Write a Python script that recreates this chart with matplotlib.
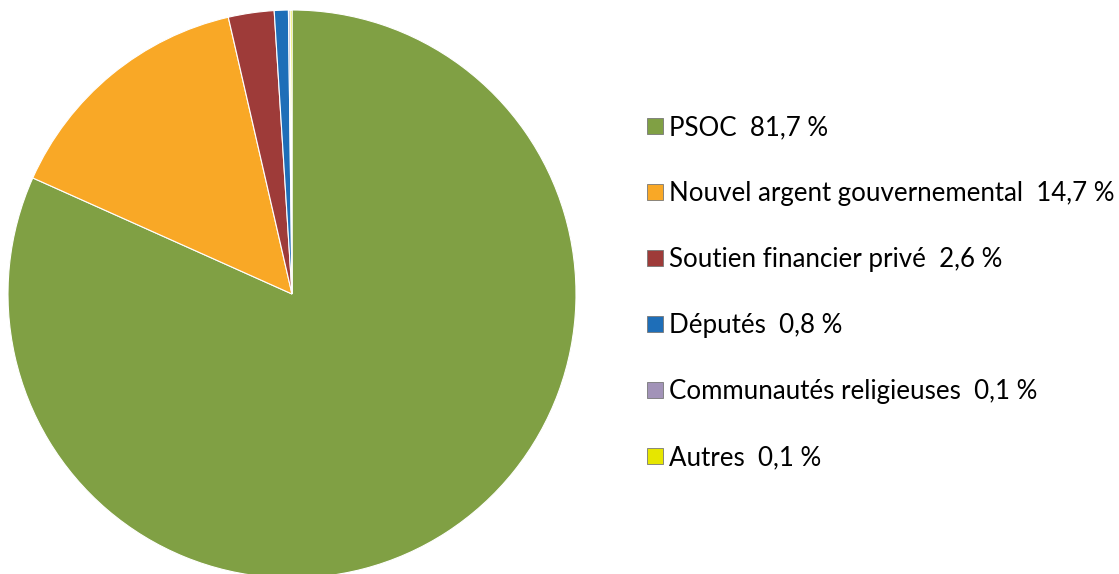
import matplotlib
matplotlib.use("Agg")
import matplotlib.pyplot as plt

categories = ["PSOC", "Nouvel argent gouvernemental", "Soutien financier privé",
              "Députés", "Communautés religieuses", "Autres"]
values = [81.7, 14.7, 2.6, 0.8, 0.1, 0.1]
labels = ["PSOC  81,7 %", "Nouvel argent gouvernemental  14,7 %",
          "Soutien financier privé  2,6 %", "Députés  0,8 %",
          "Communautés religieuses  0,1 %", "Autres  0,1 %"]
colors = ["#80A044", "#F9A826", "#9E3B39", "#1E6EB8", "#A293B8", "#E6E600"]

W, H = 1119, 574
fig = plt.figure(figsize=(W / 100, H / 100), dpi=100)
cx, cy, r = 292, 294, 284
ax = fig.add_axes([(cx - r) / W, (H - cy - r) / H, 2 * r / W, 2 * r / H])
wedges, _ = ax.pie(values, colors=colors, startangle=90, counterclock=False,
                   radius=1.0, wedgeprops=dict(edgecolor="white", linewidth=0.8))
ax.set_xlim(-1, 1)
ax.set_ylim(-1, 1)
ax.set_aspect("equal")
ax.axis("off")

leg = fig.legend(wedges, labels, loc="upper left",
                 bbox_to_anchor=(624 / W, 1 - 92 / H),
                 frameon=False, handlelength=0.6, handleheight=0.6,
                 handletextpad=0.25, labelspacing=1.585,
                 prop={"family": ["Lato", "DejaVu Sans"], "size": 18.6})
for h in leg.legend_handles:
    h.set_edgecolor("#777777")
    h.set_linewidth(0.6)

fig.savefig("out.png", dpi=100)
